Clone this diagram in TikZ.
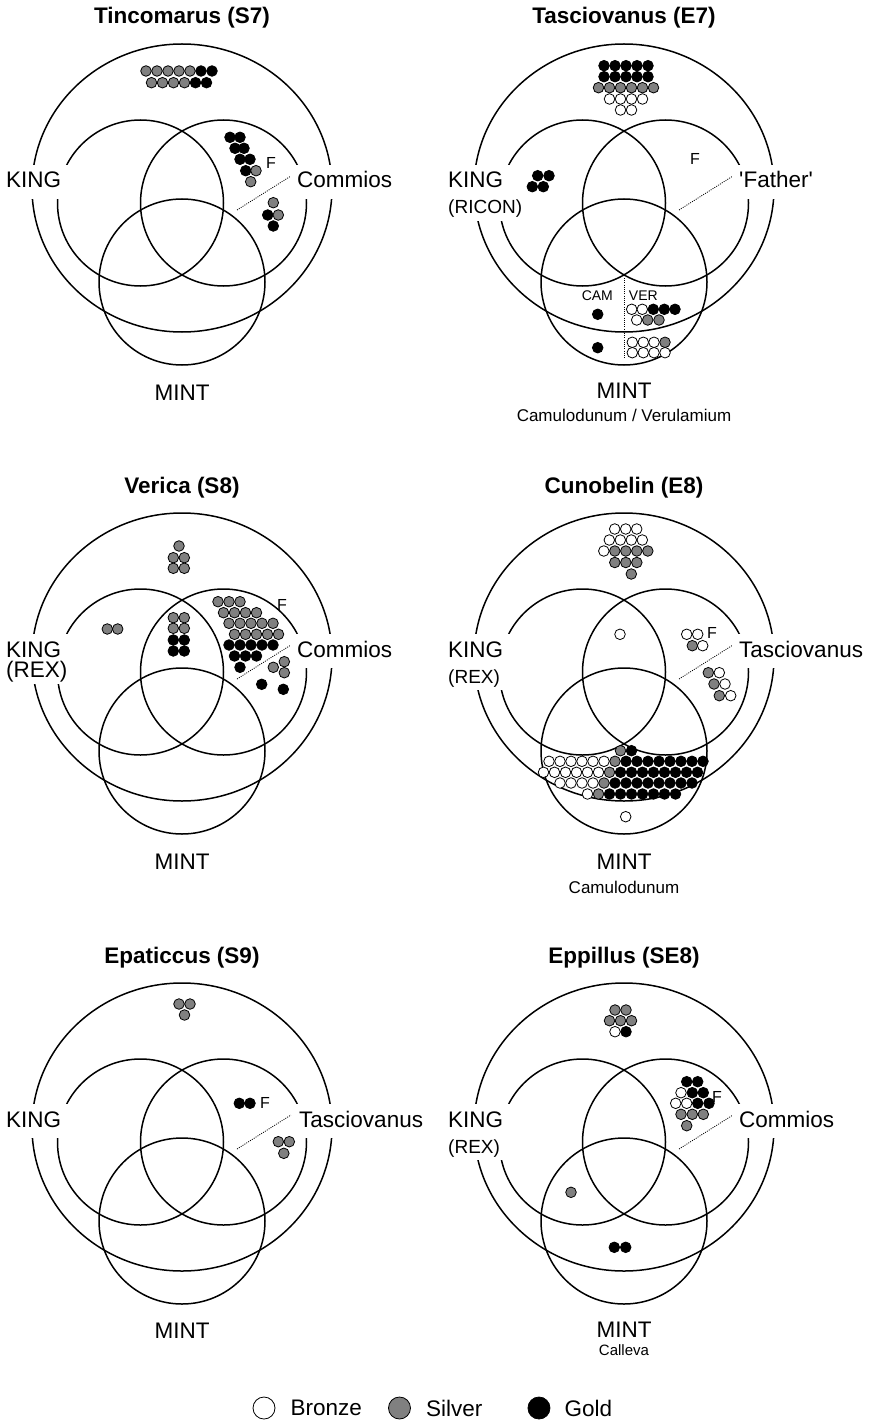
\documentclass[tikz,border=0pt]{standalone}
\usepackage{fontspec}
\setmainfont{Liberation Sans}
\usetikzlibrary{positioning}
\definecolor{coinsilver}{RGB}{128,128,128}
\tikzset{
  ring/.style={draw=black, line width=1.5pt},
  divline/.style={draw=black, line width=0.8pt, dash pattern=on 1pt off 1.2pt},
  coin/.style={draw=black, line width=0.8pt},
  bronze/.style={coin, fill=white},
  silver/.style={coin, fill=coinsilver},
  gold/.style={coin, fill=black},
  title/.style={font=\fontsize{22.5}{26}\selectfont\bfseries, anchor=base},
  setlab/.style={font=\fontsize{22.5}{26}\selectfont, fill=white, inner sep=7pt,
    text depth=4pt, anchor=base west},
  sublab/.style={setlab, inner ysep=3pt, font=\fontsize{19}{22}\selectfont},
  mintlab/.style={font=\fontsize{22.5}{26}\selectfont, anchor=base, inner sep=0pt},
  placelab/.style={font=\fontsize{17}{20}\selectfont, anchor=base, inner sep=0pt},
  flab/.style={font=\fontsize{16}{19}\selectfont, inner sep=0pt},
  keytext/.style={font=\fontsize{22.5}{26}\selectfont, inner sep=0pt},
  keycoin/.style={circle, minimum size=22pt, inner sep=0pt, line width=1.3pt}
}
\newcommand{\coinr}{5.3}
\newcommand{\coins}[2]{\foreach \x/\y in {#2} \draw[#1] (\x,\y) circle[radius=\coinr];}
\newcommand{\coinrow}[3]{\foreach \x in {#3} \draw[#1] (\x,#2) circle[radius=\coinr];}

\begin{document}
\begin{tikzpicture}[x=1pt, y=-1pt]
  \useasboundingbox (0,0) rectangle (870,1423);

  % frame, the three sets and the F divider, same in every panel
  \foreach \px/\py in {182/188, 624/188, 182/657, 624/657, 182/1127, 624/1127} {
    \begin{scope}[shift={(\px,\py)}]
      \draw[ring] (0,0) ellipse [x radius=150, y radius=144];
      \draw[ring] (-41.5,15) circle[radius=83];
      \draw[ring] (41.5,15) circle[radius=83];
      \draw[ring] (0,94) circle[radius=83];
      \coordinate (fa) at (55,22);
      \coordinate (fb) at (109,-12);
      \draw[divline] (fa) -- (fb);
    \end{scope}
  }

  % Tincomarus
  \begin{scope}[shift={(182,188)}]
    \node[title] (t1) at (0,-164) {Tincomarus (S7)};
    \node[setlab] (k1) at (-183,0) {KING};
    \node[setlab] (r1) at (108,0) {Commios};
    \node[mintlab] (m1) at (0,212) {MINT};
    \node[flab] (f1) at (89,-25) {F};
    \coinrow{silver}{-117}{-36,-25,-14,-3,8}
    \coinrow{gold}{-117}{19,30}
    \coinrow{silver}{-105.3}{-30.5,-19.5,-8.5,2.5}
    \coinrow{gold}{-105.3}{13.5,24.5}
    \coins{gold}{48/-50.7, 58/-50.7, 53/-39.7, 62/-39.7, 58/-28.7, 68/-28.7, 63.7/-17.3, 85.7/27, 91.3/38}
    \coins{silver}{74/-17.3, 68.7/-6.3, 91.3/14.7, 96.3/27}
  \end{scope}

  % Tasciovanus
  \begin{scope}[shift={(624,188)}]
    \node[title] (t2) at (0,-164) {Tasciovanus (E7)};
    \node[setlab] (k2) at (-183,0) {KING};
    \node[sublab] (k2b) at (-183,26) {(RICON)};
    \node[setlab] (r2) at (108,0) {\textquotesingle Father\textquotesingle};
    \node[mintlab] (m2) at (0,210) {MINT};
    \node[placelab] (p2) at (0,233) {Camulodunum / Verulamium};
    \node[flab] (f2) at (71,-29) {F};
    \node[flab, font=\fontsize{14}{16}\selectfont] (cam) at (-26.7,107.7) {CAM};
    \node[flab, font=\fontsize{14}{16}\selectfont] (ver) at (19.3,107.7) {VER};
    \coordinate (va) at (0,90);
    \coordinate (vb) at (0,170);
    \draw[divline] (va) -- (vb);
    \coinrow{gold}{-122.3}{-20,-9,2,13,24}
    \coinrow{gold}{-111.3}{-20,-9,2,13,24}
    \coinrow{silver}{-100.3}{-25.5,-14.5,-3.5,7.5,18.5,29.5}
    \coinrow{bronze}{-89}{-14.5,-3.5,7.5,18.5}
    \coinrow{bronze}{-78}{-3.5,7.5}
    \coins{gold}{-86.3/-12.3, -75/-12.3, -91.7/-1.3, -80.7/-1.3, -26.3/126.3, -26.3/159.7}
    \coins{bronze}{7.7/121.3, 18.3/121.3, 12.7/132, 8.3/154.3, 19.3/154.3, 30/154.3,
      8.3/164.7, 19.3/164.7, 30/164.7, 41/164.7}
    \coins{silver}{23.7/132, 35/132, 41/154.3}
    \coins{gold}{29.3/121.3, 40.3/121.3, 51/121.3}
  \end{scope}

  % Verica
  \begin{scope}[shift={(182,657)}]
    \node[title] (t3) at (0,-164) {Verica (S8)};
    \node[setlab] (k3) at (-183,0) {KING};
    \node[sublab, font=\fontsize{22.5}{26}\selectfont] (k3b) at (-183,20) {(REX)};
    \node[setlab] (r3) at (108,0) {Commios};
    \node[mintlab] (m3) at (0,212) {MINT};
    \node[flab] (f3) at (100,-52) {F};
    \coins{silver}{-3/-111, -8.7/-99.3, 2.3/-99.3, -8.7/-88.7, 2.3/-88.7,
      -8.7/-39.3, 2.3/-39.3, -8.7/-28.7, 2.3/-28.7, -74.7/-28, -64.3/-28}
    \coins{gold}{-8.7/-17, 2.3/-17, -8.7/-6, 2.3/-6}
    \coinrow{silver}{-55.3}{36,47,58}
    \coinrow{silver}{-44.3}{41.5,52.5,63.5,74.5}
    \coinrow{silver}{-33.7}{47,58,69,80,91}
    \coinrow{silver}{-22.7}{52.5,63.5,74.5,85.5,96.5}
    \coinrow{gold}{-12}{47,58,69,80,91}
    \coinrow{gold}{-1}{52.5,63.5,74.5}
    \coins{gold}{58/10.3, 79.7/27.3, 101.3/32.3}
    \coins{silver}{102.3/4.7, 91.3/10.3, 102.3/15.7}
  \end{scope}

  % Cunobelin
  \begin{scope}[shift={(624,657)}]
    \node[title] (t4) at (0,-164) {Cunobelin (E8)};
    \node[setlab] (k4) at (-183,0) {KING};
    \node[sublab] (k4b) at (-183,26) {(REX)};
    \node[setlab] (r4) at (108,0) {Tasciovanus};
    \node[mintlab] (m4) at (0,212) {MINT};
    \node[placelab] (p4) at (0,236.5) {Camulodunum};
    \node[flab] (f4) at (88,-24) {F};
    \coinrow{bronze}{-128}{-9.3,1.7,12.7}
    \coinrow{bronze}{-117}{-14.7,-3.7,7.3,18.3}
    \coinrow{bronze}{-106}{-20.2}
    \coinrow{silver}{-106}{-9.2,1.8,12.8,23.8}
    \coinrow{silver}{-94.5}{-9.2,1.8,12.8}
    \coins{silver}{7.3/-83}
    \coins{bronze}{-4/-22.7, 62.7/-22.7, 73.7/-22.7, 78.7/-11.3, 95.3/15.7, 101/27, 106.7/38.7, 1.7/159.7}
    \coins{silver}{68.3/-11.3, 84.3/15.7, 90/27, 95.3/38.7}
    % coins struck at the mint
    \coinrow{bronze}{104.3}{-75,-64,-53,-42,-31,-20}
    \coinrow{bronze}{115.3}{-80.5,-69.5,-58.5,-47.5,-36.5,-25.5}
    \coinrow{bronze}{126}{-64,-53,-42,-31}
    \coinrow{bronze}{137}{-36.5}
    \coins{silver}{-3.5/93.7, -9/104.3, -14.5/115.3, -20/126, -25.5/137}
    \coinrow{gold}{93.7}{7.5}
    \coinrow{gold}{104.3}{2,13,24,35,46,57,68,79}
    \coinrow{gold}{115.3}{-3.5,7.5,18.5,29.5,40.5,51.5,62.5,73.5}
    \coinrow{gold}{126}{-9,2,13,24,35,46,57,68}
    \coinrow{gold}{137}{-14.5,-3.5,7.5,18.5,29.5,40.5,51.5}
  \end{scope}

  % Epaticcus
  \begin{scope}[shift={(182,1127)}]
    \node[title] (t5) at (0,-164) {Epaticcus (S9)};
    \node[setlab] (k5) at (-183,0) {KING};
    \node[setlab] (r5) at (110,0) {Tasciovanus};
    \node[mintlab] (m5) at (0,211) {MINT};
    \node[flab] (f5) at (83,-24) {F};
    \coins{silver}{-3/-123, 8/-123, 2.5/-112, 96.3/14.7, 107.3/14.7, 101.8/26.3}
    \coins{gold}{57.3/-23.7, 68/-23.7}
  \end{scope}

  % Eppillus
  \begin{scope}[shift={(624,1127)}]
    \node[title] (t6) at (0,-164) {Eppillus (SE8)};
    \node[setlab] (k6) at (-183,0) {KING};
    \node[sublab] (k6b) at (-183,26) {(REX)};
    \node[setlab] (r6) at (108,0) {Commios};
    \node[mintlab] (m6) at (0,210) {MINT};
    \node[placelab, font=\fontsize{15}{18}\selectfont] (p6) at (0,228.4) {Calleva};
    \node[flab] (f6) at (93,-30) {F};
    \coins{silver}{-9/-117, 2/-117, -14.5/-106.3, -3.5/-106.3, 7.5/-106.3,
      57/-12.7, 68.3/-12.7, 79.3/-12.7, 62.7/-1.3, -53/65.3}
    \coins{bronze}{-9/-95.3, 57/-34.3, 51.7/-23.7, 62.7/-23.7}
    \coins{gold}{2/-95.3, 62.7/-45.3, 73.7/-45.3, 68.3/-34.3, 79.3/-34.3,
      73.7/-23.7, 85/-23.7, -9.7/120.3, 1.7/120.3}
  \end{scope}

  % key
  \node[keycoin, bronze] (keyb) at (264,1408) {};
  \node[keytext, right=15pt of keyb] (keybt) {Bronze};
  \node[keycoin, silver, right=26pt of keybt] (keys) {};
  \node[keytext, right=15pt of keys] (keyst) {Silver};
  \node[keycoin, gold, right=45pt of keyst] (keyg) {};
  \node[keytext, right=14pt of keyg] (keygt) {Gold};
\end{tikzpicture}
\end{document}
